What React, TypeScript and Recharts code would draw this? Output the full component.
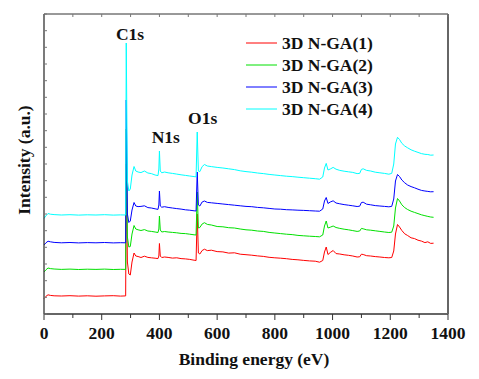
import { LineChart, Line, XAxis, YAxis, Legend, ReferenceDot } from 'recharts';

const FONT = '"Liberation Serif", "Times New Roman", serif';

// XPS survey spectra, intensity offset per sample (arbitrary units)
const energy = [
  0, 6, 14, 22, 35, 60, 90, 120, 150, 180, 210, 240, 265, 283, 285, 289, 294, 299, 305, 312,
  318, 326, 336, 348, 360, 372, 385, 395, 398, 400, 403, 408, 418, 430, 445, 460, 475, 490, 505, 520,
  527, 531, 535, 540, 548, 556, 566, 580, 600, 620, 640, 660, 680, 700, 720, 740, 760, 780, 800, 820,
  840, 860, 880, 900, 920, 940, 955, 966, 972, 978, 984, 992, 1002, 1012, 1025, 1040, 1055, 1070, 1085, 1094,
  1100, 1106, 1118, 1132, 1148, 1164, 1180, 1195, 1205, 1212, 1218, 1225, 1232, 1240, 1250, 1260, 1272, 1284, 1296, 1308,
  1320, 1330, 1340, 1350,
];

const ga1 = [
  15.5, 17.5, 19.2, 18.6, 18.2, 18.0, 18.3, 17.9, 18.2, 17.8, 18.1, 18.3, 17.9, 18.1, 150, 52, 40, 39, 52, 61,
  58, 57.5, 56.5, 57.8, 56.6, 56.2, 55.8, 55.4, 58, 70.5, 58, 56.5, 57, 56.6, 55.9, 56.2, 55.4, 55.1, 54.6, 53.8,
  53.5, 100, 61, 60, 63.5, 64.8, 63.4, 63.8, 62.4, 62.1, 60.9, 61.2, 59.8, 59.3, 58.8, 58.1, 57.6, 56.7, 56.2, 55.8,
  55.3, 54.6, 54.2, 53.6, 53.1, 52.8, 51.8, 53.5, 62, 67, 59.5, 61.5, 63.5, 60.4, 60, 59.2, 58.7, 58, 57, 57.2,
  59.8, 59.5, 58.3, 58, 57.4, 57, 56.5, 56.2, 56.5, 63, 80, 89.5, 87, 83.5, 80.2, 78.5, 76.2, 75.4, 73.8, 72.9,
  71.4, 72.2, 70.6, 70.8,
];

const ga2 = [
  42, 44, 46, 45.4, 45, 44.6, 44.9, 44.5, 44.8, 44.6, 44.9, 44.5, 44.7, 44.6, 185, 77, 67, 67.5, 80, 88.5,
  85, 84.2, 83.5, 84.4, 83, 82.6, 82, 81.5, 85, 98, 84, 82, 82.5, 82, 81.6, 81.2, 80.6, 80.4, 79.8, 79.2,
  79, 122, 86, 86.5, 90, 91.3, 89.6, 89, 87.5, 87.2, 86.3, 86, 85, 84.2, 83.8, 83, 82.6, 81.6, 81, 80.4,
  79.8, 79.4, 78.6, 78.2, 77.8, 77.5, 77.2, 79, 88, 93, 86, 86.8, 88, 86.5, 85.6, 84.8, 84.2, 83.4, 82.6, 83,
  85.6, 85.2, 84.2, 83.8, 83.2, 82.6, 82, 81.5, 81.8, 88, 106, 115.5, 113, 109.2, 106.4, 104.5, 102.8, 101.6, 100.4, 99.2,
  98.3, 97.6, 97, 96.7,
];

const ga3 = [
  69, 71, 72.8, 72.2, 71.6, 71.2, 71.5, 71.1, 71.4, 71.2, 71.5, 71.1, 71.3, 71.2, 214, 100, 91.5, 93, 104, 111.5,
  108, 107.4, 107.6, 108.2, 106.4, 106, 105.2, 104.6, 109, 123, 108, 106.8, 107.3, 106.6, 106, 105.4, 104.9, 104.2, 103.8, 103.2,
  103, 142, 109, 108, 112, 113, 111.6, 111.2, 110.6, 110, 109.4, 108.8, 108.2, 107.6, 107.3, 106.6, 106.2, 105.6, 105, 104.8,
  104.3, 104.1, 103.8, 103.6, 103.3, 103, 102.8, 105, 113, 116.5, 110.5, 112, 113.2, 111, 110.2, 109.4, 108.8, 108.2, 107.5, 107.8,
  111.5, 111.8, 109.8, 109.2, 108.4, 108, 107.6, 107.2, 107.6, 115, 133, 139.5, 137.5, 134, 131.2, 129, 127.4, 126.2, 124.8, 123.6,
  123, 122.6, 122.2, 122.3,
];

const ga4 = [
  95.5, 98, 100.5, 99.8, 99.4, 99, 99.3, 98.9, 99.2, 99, 99.3, 98.9, 99.1, 99, 271, 133, 123, 125, 139, 147.5,
  143, 142, 141.4, 143, 141, 140.4, 139, 138.4, 145, 163, 143, 141.2, 142, 141.2, 140.6, 139.9, 139.2, 138.6, 138, 137.4,
  137.2, 182, 143, 142.4, 147.4, 149.5, 148, 147.4, 146.6, 146, 145.2, 144.4, 143.2, 142.4, 141.8, 141, 140.4, 139.6, 139, 138.4,
  137.8, 137.4, 136.8, 136.3, 135.8, 135.3, 134.8, 137, 146, 150.6, 144, 145, 146.6, 144.8, 143.6, 142.8, 142.2, 141.6, 140.4, 140.6,
  144.6, 145.2, 143.6, 143, 141.8, 141.2, 140.6, 139.8, 140.6, 150, 170, 176.7, 174.5, 170.7, 168, 166.2, 164.2, 162.8, 161.6, 160.4,
  159.7, 159.5, 158.8, 159,
];

const seriesNames = ['3D N-GA(1)', '3D N-GA(2)', '3D N-GA(3)', '3D N-GA(4)'];
const seriesColors = ['#ff0000', '#00e000', '#0000ff', '#00ffff'];

const xTicks = [0, 100, 200, 300, 400, 500, 600, 700, 800, 900, 1000, 1100, 1200, 1300, 1400];
const yTicks = [
  0, 16.7, 33.3, 50, 66.7, 83.3, 100, 116.7, 133.3, 150, 166.7, 183.3, 200, 216.7, 233.3, 250, 266.7, 283.3, 300,
];

const peakNames = ['C1s', 'N1s', 'O1s'];
const peakEnergy = [298, 422, 550];
const peakLevel = [280, 177.5, 196];

const rows = energy.map((e, i) => ({ e, s1: ga1[i], s2: ga2[i], s3: ga3[i], s4: ga4[i] }));
const series = [ga1, ga2, ga3, ga4].map((_, i) => ({
  key: `s${i + 1}`,
  name: seriesNames[i],
  color: seriesColors[i],
}));

const textStyle = { fontFamily: FONT, fontWeight: 700, fontSize: 17.5, fill: '#111' };

// ─── ticks ───────────────────────────────────────────────────────────────────

const BottomTick = ({ x, y, payload }: any) => {
  const major = payload.value % 200 === 0;
  return (
    <g>
      <line x1={x} y1={y} x2={x} y2={y + (major ? 6 : 4)} stroke="#333" strokeWidth={1} />
      {major && (
        <text x={x} y={y + 25} textAnchor="middle" {...textStyle}>
          {payload.value}
        </text>
      )}
    </g>
  );
};

const TopTick = ({ x, y }: any) => <line x1={x} y1={y} x2={x} y2={y + 3} stroke="#777" />;
const LeftTick = ({ x, y }: any) => <line x1={x} y1={y} x2={x + 3} y2={y} stroke="#777" />;
const RightTick = ({ x, y }: any) => <line x1={x} y1={y} x2={x - 3} y2={y} stroke="#777" />;

// ─── titles ──────────────────────────────────────────────────────────────────

const XTitle = ({ viewBox }: any) => (
  <text x={viewBox.x + viewBox.width / 2 + 8} y={viewBox.y + 51} textAnchor="middle" {...textStyle}>
    Binding energy (eV)
  </text>
);

const YTitle = ({ viewBox }: any) => {
  const cx = viewBox.x + 24;
  const cy = viewBox.y + viewBox.height / 2 - 4;
  return (
    <text
      x={cx}
      y={cy}
      transform={`rotate(-90 ${cx} ${cy})`}
      textAnchor="middle"
      dominantBaseline="central"
      {...textStyle}
    >
      Intensity (a.u.)
    </text>
  );
};

const LegendBox = ({ payload }: any) => (
  <div style={{ fontFamily: FONT, fontWeight: 700, fontSize: 17.5, color: '#111' }}>
    {(payload || []).map((p: any) => (
      <div key={p.value} style={{ display: 'flex', alignItems: 'center', height: 22, lineHeight: '22px' }}>
        <svg width={31} height={4} style={{ marginRight: 5 }}>
          <line x1={0} y1={2} x2={31} y2={2} stroke={p.color} strokeWidth={1} />
        </svg>
        <span style={{ whiteSpace: 'nowrap' }}>{p.value}</span>
      </div>
    ))}
  </div>
);

export default function App() {
  return (
    <div style={{ position: 'relative', width: 479, height: 379, background: '#fff' }}>
      <style>{'body{margin:0;background:#fff}'}</style>
      <LineChart width={479} height={379} data={rows} margin={{ top: 0, right: 0, bottom: 0, left: 0 }}>
        <XAxis
          xAxisId="b"
          type="number"
          dataKey="e"
          domain={[0, 1400]}
          ticks={xTicks}
          interval={0}
          height={65}
          tickSize={0}
          tickMargin={0}
          tickLine={false}
          tick={<BottomTick />}
          axisLine={{ stroke: '#333', strokeWidth: 1.3 }}
          label={<XTitle />}
        />
        <XAxis
          xAxisId="t"
          orientation="top"
          type="number"
          dataKey="e"
          domain={[0, 1400]}
          ticks={xTicks}
          interval={0}
          height={14}
          tickSize={0}
          tickMargin={0}
          tickLine={false}
          tick={<TopTick />}
          axisLine={{ stroke: '#333', strokeWidth: 1 }}
        />
        <YAxis
          yAxisId="l"
          type="number"
          domain={[0, 300]}
          ticks={yTicks}
          interval={0}
          width={44}
          tickSize={0}
          tickMargin={0}
          tickLine={false}
          tick={<LeftTick />}
          axisLine={{ stroke: '#333', strokeWidth: 1.3 }}
          label={<YTitle />}
        />
        <YAxis
          yAxisId="r"
          orientation="right"
          type="number"
          domain={[0, 300]}
          ticks={yTicks}
          interval={0}
          width={31}
          tickSize={0}
          tickMargin={0}
          tickLine={false}
          tick={<RightTick />}
          axisLine={{ stroke: '#666', strokeWidth: 2 }}
        />
        {series.map((s) => (
          <Line
            key={s.key}
            xAxisId="b"
            yAxisId="l"
            type="linear"
            dataKey={s.key}
            name={s.name}
            stroke={s.color}
            strokeWidth={1}
            dot={false}
            isAnimationActive={false}
          />
        ))}
        {peakNames.map((n, i) => (
          <ReferenceDot
            key={n}
            xAxisId="b"
            yAxisId="l"
            x={peakEnergy[i]}
            y={peakLevel[i]}
            r={0}
            fill="none"
            stroke="none"
            label={{ value: n, position: 'center', ...textStyle }}
          />
        ))}
        <Legend
          layout="vertical"
          align="center"
          verticalAlign="middle"
          content={<LegendBox />}
          wrapperStyle={{ left: 246, top: 32, width: 150, height: 90 }}
        />
      </LineChart>
    </div>
  );
}
